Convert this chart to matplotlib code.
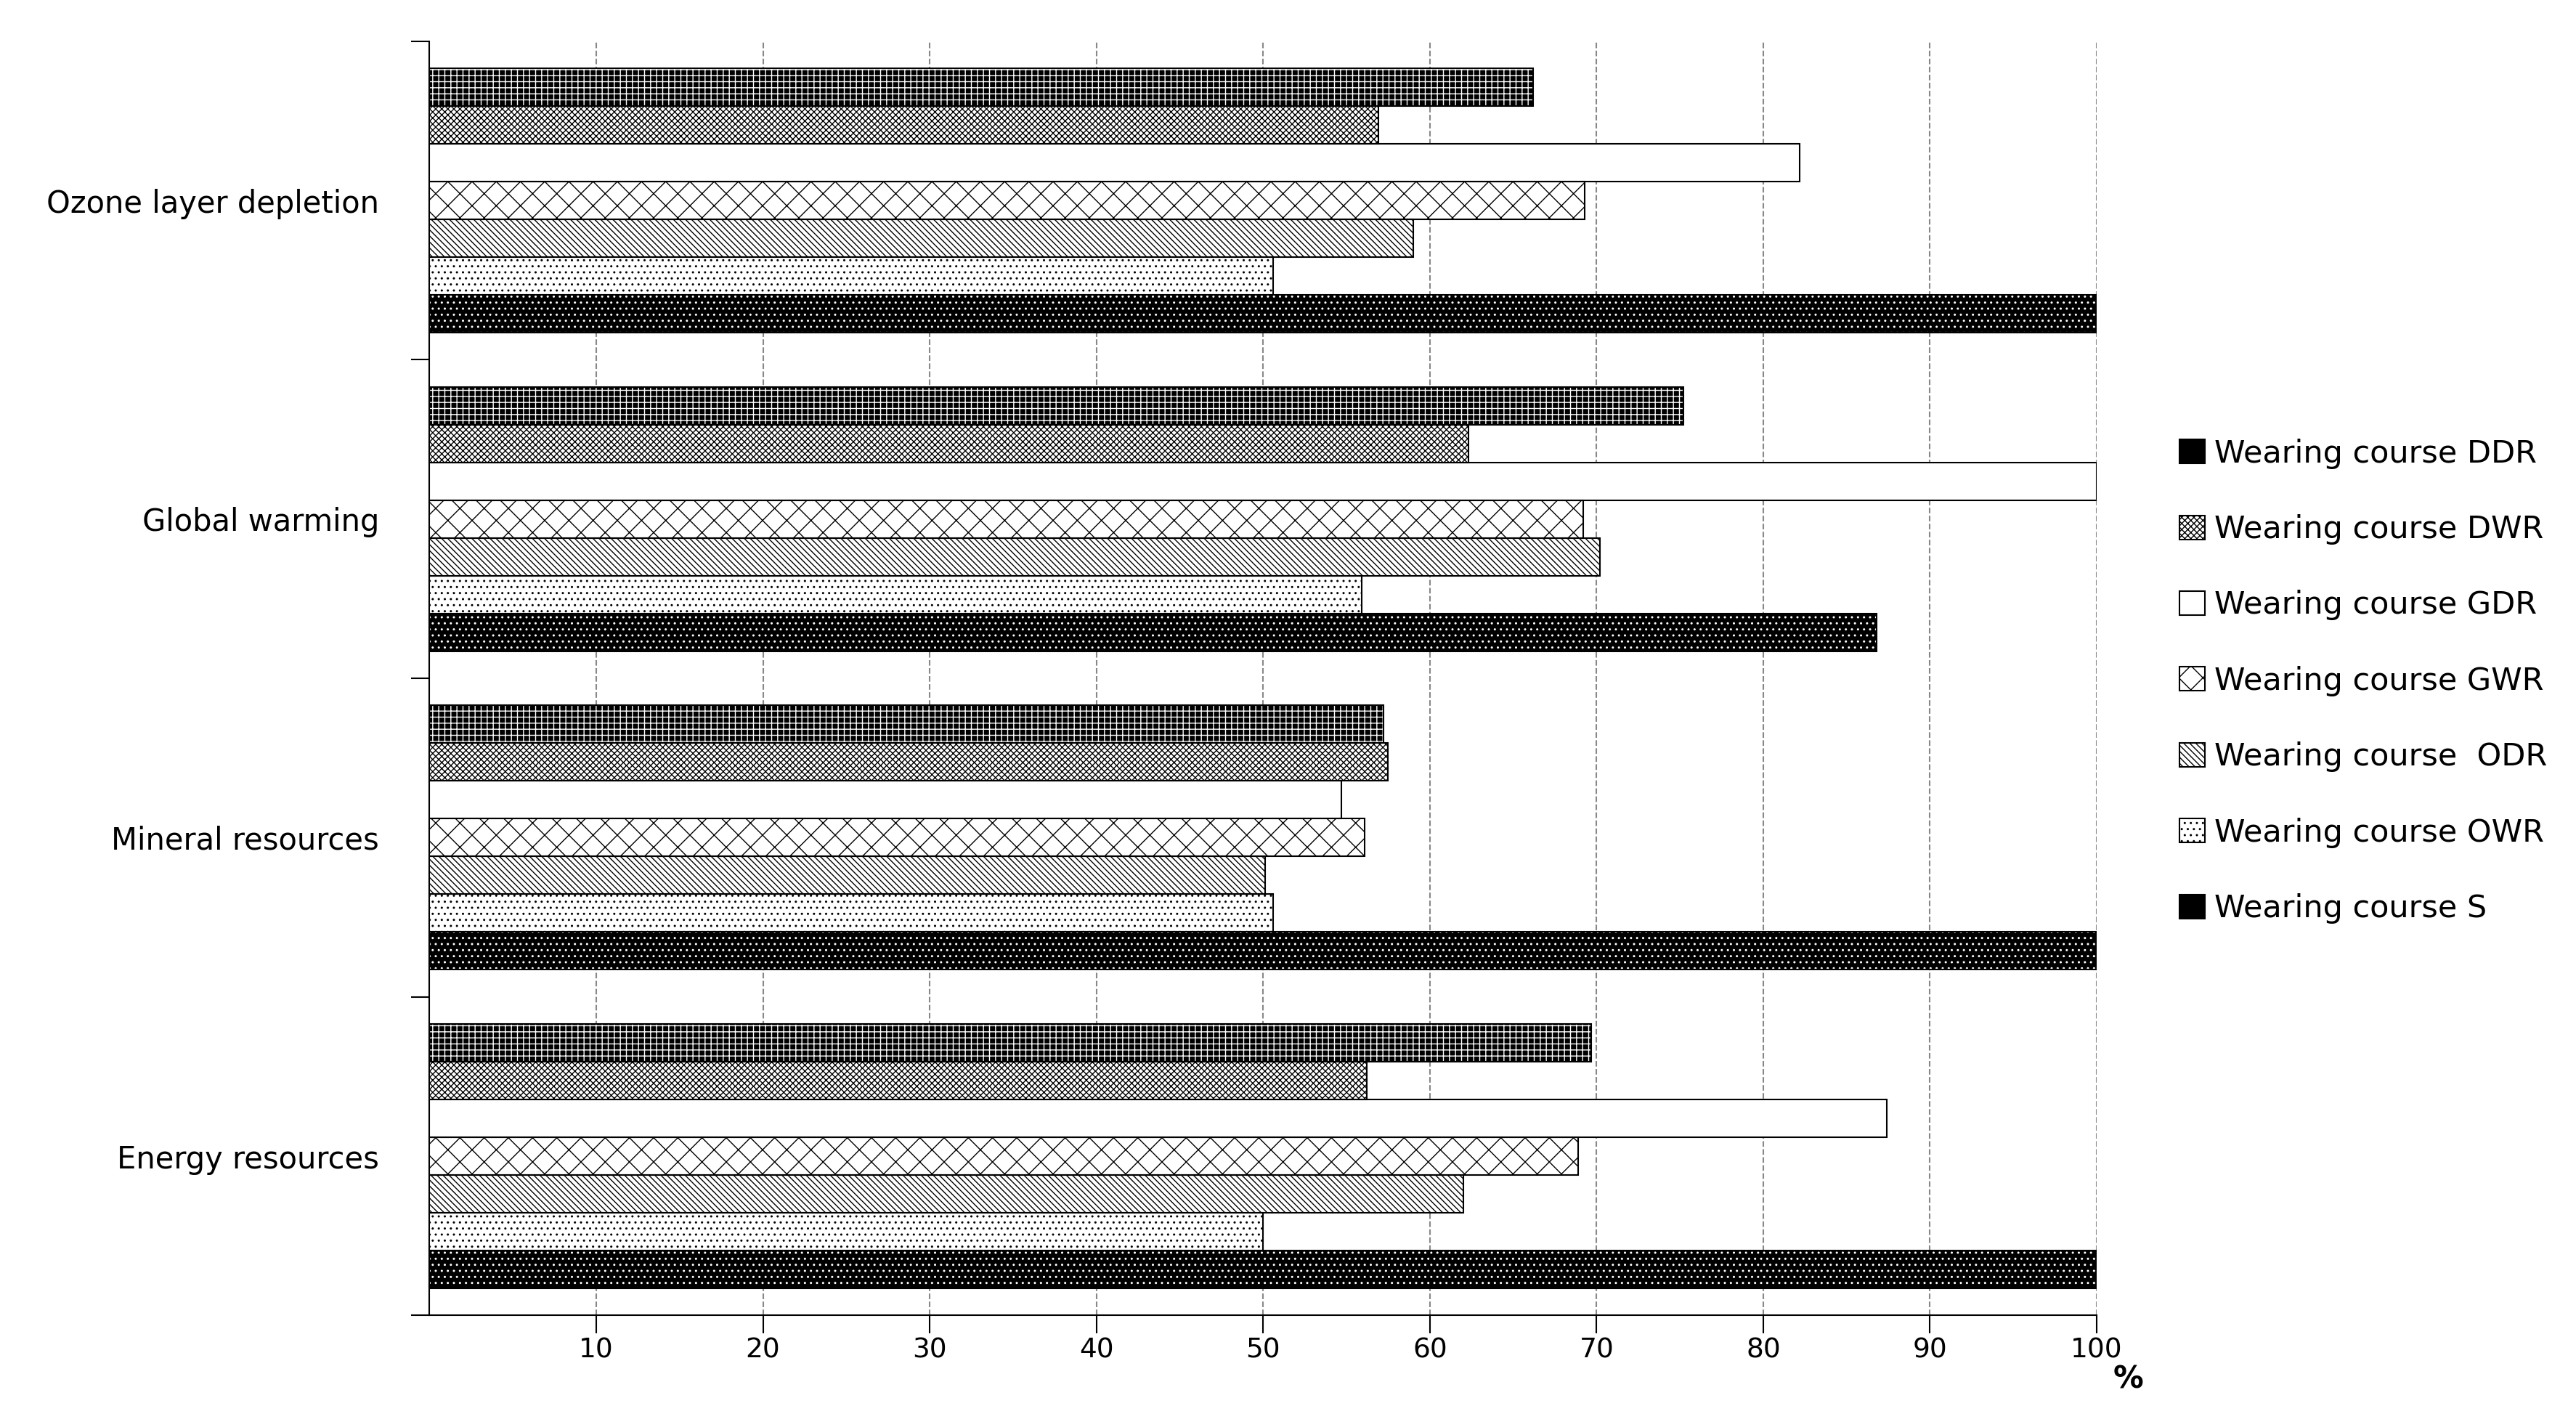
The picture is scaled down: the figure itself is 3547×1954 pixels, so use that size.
import matplotlib
matplotlib.use("Agg")
import matplotlib.pyplot as plt
import numpy as np

categories = ["Ozone layer depletion", "Global warming", "Mineral resources", "Energy resources"]
series = ["Wearing course DDR", "Wearing course DWR", "Wearing course GDR", "Wearing course GWR",
          "Wearing course  ODR", "Wearing course OWR", "Wearing course S"]
DDR = [66.2, 75.2, 57.2, 69.7]
DWR = [56.9, 62.3, 57.5, 56.2]
GDR = [82.2, 100.0, 54.7, 87.4]
GWR = [69.3, 69.2, 56.1, 68.9]
ODR = [59.0, 70.2, 50.1, 62.0]
OWR = [50.6, 55.9, 50.6, 50.0]
S = [100.0, 86.8, 100.0, 100.0]
values = [DDR, DWR, GDR, GWR, ODR, OWR, S]
xticks = [10, 20, 30, 40, 50, 60, 70, 80, 90, 100]

styles = [("black", "white", "++"), ("white", "black", "xxxx"), ("white", "black", ""),
          ("white", "black", "x"), ("white", "black", "\\\\\\\\"), ("white", "black", ".."),
          ("black", "white", "..")]

plt.rcParams['font.family'] = ['DejaVu Sans']
fig = plt.figure(figsize=(35.48, 19.54), dpi=100)
ax = fig.add_axes([0.1667, 0.073, 0.647, 0.898])

n = len(series)
bh = 0.83 / n
ypos = np.arange(len(categories))[::-1]
handles = []
for i, (vals, (fc, hc, h)) in enumerate(zip(values, styles)):
    y = ypos + 0.415 - bh * (i + 0.5)
    ax.barh(y, vals, height=bh, color=fc, edgecolor=hc, hatch=h, linewidth=0, zorder=3)
    ax.barh(y, vals, height=bh, facecolor="none", edgecolor="black", linewidth=1.5, zorder=4)
    p = plt.Rectangle((0, 0), 1, 1, facecolor=fc, edgecolor="black", hatch=h, linewidth=1.5)
    handles.append(p)

ax.set_xlim(0, 100)
ax.set_ylim(-0.5, len(categories) - 0.5)
ax.set_xticks(xticks)
ax.set_xticklabels([str(v) for v in xticks], fontsize=27)
ax.xaxis.grid(True, linestyle="--", color="#888888", linewidth=1.5, zorder=0)
ax.set_yticks(ypos)
ax.set_yticklabels(categories, fontsize=30)
ax.tick_params(axis="y", length=0, pad=50)
ax.set_yticks(np.arange(-0.5, len(categories)), minor=True)
ax.tick_params(axis="y", which="minor", length=18, width=1.5)
ax.tick_params(axis="x", length=18, width=1.5, direction="out")
for s in ["top", "right"]:
    ax.spines[s].set_visible(False)
for s in ["left", "bottom"]:
    ax.spines[s].set_linewidth(1.5)
fig.text(0.826, 0.022, "%", fontsize=30, fontweight="bold", ha="center")

leg = fig.legend(handles, series, loc="center left", bbox_to_anchor=(0.835, 0.52),
                 frameon=False, fontsize=31, labelspacing=1.45, handlelength=0.8,
                 handleheight=0.8, handletextpad=0.3)
fig.savefig("out.png", dpi=100)
